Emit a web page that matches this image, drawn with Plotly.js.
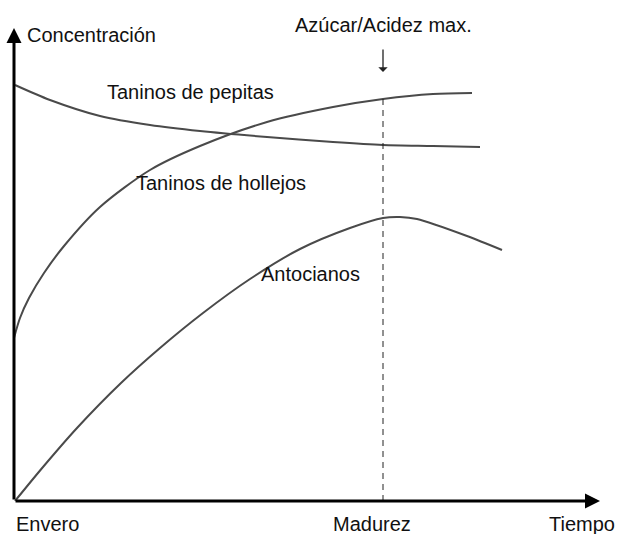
<!DOCTYPE html>
<html>
<head>
<meta charset="utf-8">
<script src="https://cdn.plot.ly/plotly-3.0.1.min.js"></script>
<style>html,body{margin:0;padding:0;background:#fff}#chart{width:617px;height:534px}</style>
</head>
<body>
<div id="chart"></div>
<script>
// Time (arbitrary units from Envero) and concentration (arbitrary units)
var pepitasX = [1, 36, 86, 136, 186, 253, 319, 369, 419, 466];
var pepitasY = [416, 401, 385, 376, 370, 364, 359, 356, 355, 354];

var hollejosX = [0, 6, 15, 30, 50, 86, 136, 186, 253, 319, 369, 419, 458];
var hollejosY = [163, 183, 203, 228, 255, 294, 331, 355, 379, 394, 402, 407, 408];

var antocianosX = [1, 29, 63, 107, 146, 189, 236, 286, 336, 369, 386, 403, 453, 488];
var antocianosY = [0, 34, 73, 118, 153, 188, 222, 252, 273, 283, 284, 282, 265, 251];

var madurezX = 369;
var xMax = 586, yMax = 473;

var xLabels = ["Envero", "Madurez", "Tiempo"];
var seriesNames = ["Taninos de pepitas", "Taninos de hollejos", "Antocianos"];

var lineStyle = {color: '#4a4a4a', width: 2, shape: 'spline', smoothing: 0.8};
function tr(x, y, name) {
  return {x: x, y: y, name: name, type: 'scatter', mode: 'lines', line: lineStyle,
          cliponaxis: false, hoverinfo: 'skip'};
}
var data = [
  tr(pepitasX, pepitasY, seriesNames[0]),
  tr(hollejosX, hollejosY, seriesNames[1]),
  tr(antocianosX, antocianosY, seriesNames[2])
];

var font = {family: 'Liberation Sans, Arial, sans-serif', size: 20, color: '#111'};
function txt(text, x, y, xanchor, xref, yref) {
  return {text: text, x: x, y: y, xref: xref || 'x', yref: yref || 'y', showarrow: false,
          xanchor: xanchor || 'center', yanchor: 'middle', font: font};
}
// paper y for pixel rows outside the plot area
function py(pix) { return (501 - pix) / 473; }

var layout = {
  width: 617, height: 534,
  margin: {l: 14, r: 17, t: 28, b: 33, pad: 0},
  paper_bgcolor: '#fff', plot_bgcolor: '#fff',
  showlegend: false,
  xaxis: {range: [0, xMax], showgrid: false, zeroline: false, showline: false,
          showticklabels: false, ticks: '', fixedrange: true},
  yaxis: {range: [0, yMax], showgrid: false, zeroline: false, showline: false,
          showticklabels: false, ticks: '', fixedrange: true},
  shapes: [
    {type: 'line', xref: 'x', yref: 'y', x0: madurezX, x1: madurezX, y0: 0, y1: 404,
     line: {color: '#222', width: 1, dash: '6px,5px'}}
  ],
  annotations: [
    // axes with arrowheads
    {x: xMax, y: 0, ax: 0, ay: 0, xref: 'x', yref: 'y', axref: 'x', ayref: 'y',
     showarrow: true, arrowhead: 2, arrowsize: 1, arrowwidth: 3, arrowcolor: '#000', text: ''},
    {x: 0, y: yMax, ax: 0, ay: 0, xref: 'x', yref: 'y', axref: 'x', ayref: 'y',
     showarrow: true, arrowhead: 2, arrowsize: 1, arrowwidth: 3, arrowcolor: '#000', text: ''},
    // arrow to madurez
    {x: madurezX, y: 429, ax: madurezX, ay: 453, xref: 'x', yref: 'y', axref: 'x', ayref: 'y',
     showarrow: true, arrowhead: 1, arrowsize: 1.2, arrowwidth: 1.3, arrowcolor: '#222', text: ''},
    txt('Concentración', 11, 466, 'left'),
    txt('Azúcar/Acidez max.', madurezX, py(25), 'center', 'x', 'paper'),
    txt(seriesNames[0], 176, 409),
    txt(seriesNames[1], 207, 318),
    txt(seriesNames[2], 296, 227),
    txt(xLabels[0], 0, py(524), 'left', 'x', 'paper'),
    txt(xLabels[1], 358, py(524), 'center', 'x', 'paper'),
    txt(xLabels[2], 603 / xMax, py(524), 'right', 'paper', 'paper')
  ]
};

Plotly.newPlot('chart', data, layout, {staticPlot: true, displayModeBar: false});
</script>
</body>
</html>
